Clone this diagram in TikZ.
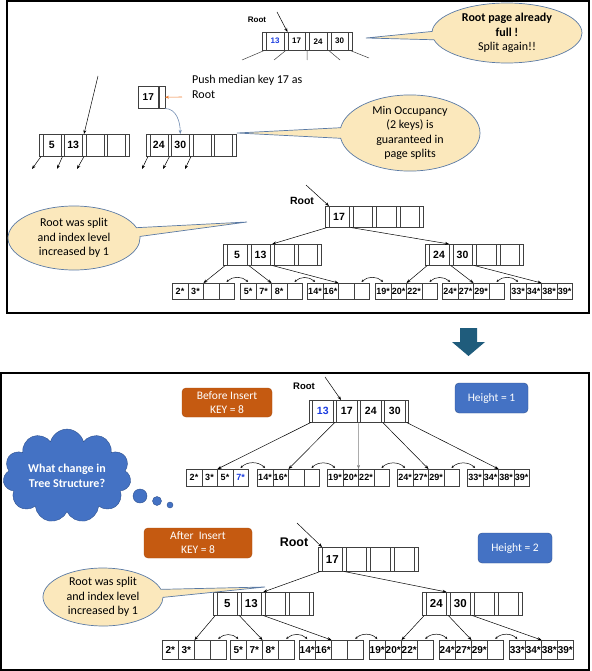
\documentclass[tikz,border=0pt]{standalone}
\usepackage{fontspec}
\setmainfont{Carlito}
\newfontfamily\arialf{Liberation Sans}
\usepackage{xcolor}
\usetikzlibrary{arrows.meta, shapes.callouts, shapes.symbols, positioning}

\definecolor{treeline}{HTML}{404040}
\definecolor{keyblue}{HTML}{1A3CE0}
\definecolor{calloutfill}{HTML}{FBE8BC}
\definecolor{calloutline}{HTML}{5A7AA5}
\definecolor{tagfill}{HTML}{C55A11}
\definecolor{tagline}{HTML}{A84C0E}
\definecolor{hfill}{HTML}{4472C4}
\definecolor{hline}{HTML}{2F528F}
\definecolor{downfill}{HTML}{1F5C7C}
\definecolor{pushline}{HTML}{ED7D31}
\definecolor{curveline}{HTML}{6E8AB0}

\newcommand{\keyfont}[1]{\fontsize{#1}{#1}\selectfont\arialf\bfseries}
\newcommand{\calfont}{\fontsize{12}{14.5}\selectfont}

% index page: name, x, y, slot width, key width, height, font size, keys
\newcommand{\idxnode}[8]{%
  \foreach \k [count=\i] in {#8} {
    \pgfmathtruncatemacro\j{\i-1}
    \pgfmathsetmacro\cellx{#2+(\i-1)*(#4+#5)}
    \node[cell, minimum width=#4pt, minimum height=#6pt] (#1-s\j) at (\cellx,#3) {};
    \pgfmathsetmacro\cellx{#2+(\i-1)*(#4+#5)+#4}
    \node[cell, minimum width=#5pt, minimum height=#6pt, font=\keyfont{#7}] (#1-k\i) at (\cellx,#3) {\k};
  }
  \pgfmathsetmacro\cellx{#2+4*(#4+#5)}
  \node[cell, minimum width=#4pt, minimum height=#6pt] (#1-s4) at (\cellx,#3) {};
}

% leaf page: name, x, y, cell width, height, font size, keys
\newcommand{\leafnode}[7]{%
  \foreach \k [count=\i] in {#7} {
    \pgfmathsetmacro\cellx{#2+(\i-1)*#4}
    \node[cell, minimum width=#4pt, minimum height=#5pt, font=\keyfont{#6}] (#1-c\i) at (\cellx,#3) {\k};
  }
}

\begin{document}
\begin{tikzpicture}[
    x=1pt, y=-1pt,
    >={Stealth[length=4pt, width=3pt]},
    cell/.style = {draw=treeline, line width=0.5pt, inner sep=0pt, anchor=north west},
    frame/.style = {draw=black, line width=1.2pt},
    ptr/.style = {->, draw=black, line width=0.5pt},
    stub/.style = {draw=treeline, line width=0.5pt},
    sib/.style = {<->, line width=0.5pt, >={Stealth[length=2.5pt, width=2.2pt]}},
    callout/.style = {ellipse callout, draw=calloutline, fill=calloutfill, line width=0.7pt,
        align=center, font=\calfont, inner sep=0pt, callout pointer arc=16},
    tag/.style = {rounded corners=4pt, draw=tagline, fill=tagfill, text=white, align=center,
        font=\fontsize{11.5}{14}\selectfont, inner sep=0pt},
    hbox/.style = {rounded corners=4pt, draw=hline, fill=hfill, text=white,
        font=\fontsize{11.5}{14}\selectfont, inner sep=0pt},
    rootlbl/.style = {inner sep=0pt}
]
\useasboundingbox (0,0) rectangle (591,671);

% upper panel
\draw[frame] (7,1) rectangle (589,313);

\node[rootlbl, font=\keyfont{8}] (rootA) at (257,20) {Root};
\idxnode{T}{262}{32}{4}{17.5}{18}{8}{{\color{keyblue}13},17,24,30}
\coordinate (rootAtail) at (277,12);
\draw[ptr] (rootAtail) -- (T-k2.north west);
\foreach \i/\x/\y in {0/242/60, 1/274/60, 2/307/60, 3/340/60, 4/369/58} {
    \coordinate (Tend\i) at (\x,\y);
    \draw[stub] (T-s\i.south) -- (Tend\i);
}

\coordinate (tipA) at (366,38);
\node[callout, minimum width=150pt, minimum height=60pt, callout absolute pointer=(tipA)] (fullA) at (507,33)
    {\textbf{Root page already}\\\textbf{full !}\\Split again!!};

\node[inner sep=0pt, anchor=north west, align=left, font=\calfont] (push) at (192,75) {Push median key 17 as\\Root};
\node[cell, minimum width=20pt, minimum height=22pt, font=\keyfont{10}] (M-k) at (138,86) {17};
\node[cell, minimum width=6pt, minimum height=22pt] (M-s) at (M-k.north east) {};
\coordinate (pushtail) at (182,97);
\draw[->, draw=pushline, line width=0.6pt] (pushtail) -- (M-s.east);

\idxnode{L0}{39}{134}{3.5}{18}{22}{10.5}{5,13,{},{}}
\idxnode{R1}{146}{134}{3.5}{18}{22}{10.5}{24,30,{},{}}
\draw[->, draw=curveline, line width=0.6pt] (M-s.south east) to[out=0, in=90] (R1-k2.north);
\coordinate (upL) at (98,76);
\draw[ptr] (upL) -- (L0-s2.north);
\foreach \n/\i/\x in {L0/0/32, L0/1/57, L0/2/77, R1/0/142, R1/1/163, R1/2/185} {
    \coordinate (\n dn\i) at (\x,169);
    \draw[ptr] (\n-s\i.south) -- (\n dn\i);
}

\coordinate (tipB) at (237,133);
\node[callout, minimum width=140pt, minimum height=64pt, callout absolute pointer=(tipB)] (occ) at (410,133)
    {Min Occupancy\\(2 keys) is\\guaranteed in\\page splits};

% tree after the split
\node[rootlbl, font=\keyfont{10.5}] (rootB) at (302,201) {Root};
\idxnode{R2}{325}{206}{4}{19.5}{21}{10.5}{17,{},{},{}}
\idxnode{I1}{223}{244}{4}{19.5}{21}{10.5}{5,13,{},{}}
\idxnode{I2}{425}{244}{4}{19.5}{21}{10.5}{24,30,{},{}}
\coordinate (rootBtail) at (306,185);
\draw[ptr] (rootBtail) -- (R2-k1.north west);
\draw[ptr] (R2-s0.south) -- (I1-s2.north);
\draw[ptr] (R2-s1.south) -- (I2-k1.north east);

\leafnode{LA1}{172}{283}{15.5}{15.5}{9}{2*,3*,{},{}}
\leafnode{LA2}{240}{283}{15.5}{15.5}{9}{5*,7*,8*,{}}
\leafnode{LA3}{307}{283}{15.5}{15.5}{9}{14*,16*,{},{}}
\leafnode{LA4}{375}{283}{15.5}{15.5}{9}{19*,20*,22*,{}}
\leafnode{LA5}{442}{283}{15.5}{15.5}{9}{24*,27*,29*,{}}
\leafnode{LA6}{510}{283}{15.5}{15.5}{9}{33*,34*,38*,39*}
\draw[ptr] (I1-s0.south) -- (LA1-c2.north east);
\draw[ptr] (I1-s1.south) -- (LA2-c2.north east);
\draw[ptr] (I1-s2.south) -- (LA3-c2.north east);
\draw[ptr] (I2-s0.south) -- (LA4-c2.north east);
\draw[ptr] (I2-s1.south) -- (LA5-c2.north east);
\draw[ptr] (I2-s2.south) -- (LA6-c2.north east);
\foreach \a/\b in {LA1/LA2, LA2/LA3, LA3/LA4, LA4/LA5, LA5/LA6}
    \draw[sib] ([yshift=1pt]\a-c4.north) to[bend left=45] ([yshift=1pt]\b-c1.north);

\coordinate (tipC) at (247,222);
\node[callout, minimum width=132pt, minimum height=64pt, callout absolute pointer=(tipC)] (splitA) at (74,238)
    {Root was split\\and index level\\increased by 1};

% down arrow
\fill[downfill] (460,328) -- (477,328) -- (477,342) -- (485,342) -- (468.5,356) -- (452,342) -- (460,342) -- cycle;

% lower panel
\draw[frame] (1,373) rectangle (589,670);

\node[tag, minimum width=90pt, minimum height=29pt] (before) at (227,402.5) {Before Insert\\KEY = 8};
\node[hbox, minimum width=73pt, minimum height=30pt] (h1) at (491.5,398) {Height = 1};

\node[rootlbl, font=\keyfont{9.5}] (rootC) at (304,386) {Root};
\idxnode{B0}{309}{400}{3}{21}{22}{10.5}{{\color{keyblue}13},17,24,30}
\coordinate (rootCtail) at (325,377);
\draw[ptr] (rootCtail) -- ([xshift=5pt]B0-k2.north west);

\leafnode{LB1}{186}{469}{15.5}{17}{9}{2*,3*,5*,{\color{keyblue}7*}}
\leafnode{LB2}{257}{469}{15.5}{17}{9}{14*,16*,{},{}}
\leafnode{LB3}{327}{469}{15.5}{17}{9}{19*,20*,22*,{}}
\leafnode{LB4}{397}{469}{15.5}{17}{9}{24*,27*,29*,{}}
\leafnode{LB5}{467}{469}{15.5}{17}{9}{33*,34*,38*,39*}
\draw[ptr] (B0-s0.south) -- (LB1-c2.north east);
\draw[ptr] (B0-s1.south) -- (LB2-c2.north east);
\draw[ptr, draw=gray] (B0-s2.south) -- (LB3-c2.north east);
\draw[ptr] (B0-s3.south) -- (LB4-c2.north east);
\draw[ptr] (B0-s4.south) -- (LB5-c2.north east);
\foreach \a/\b in {LB1/LB2, LB2/LB3, LB3/LB4, LB4/LB5}
    \draw[sib] ([yshift=1pt]\a-c4.north) to[bend left=45] ([yshift=1pt]\b-c1.north);

\node[cloud, cloud puffs=11, aspect=1.5, draw=hline, fill=hfill, minimum width=128pt, minimum height=86pt,
    align=center, text=white, font=\calfont\bfseries, inner sep=0pt] (think) at (67,476) {What change in\\Tree Structure?};
\node[circle, draw=hline, fill=hfill, minimum size=14pt, inner sep=0pt] (bub1) at (140,496) {};
\node[circle, draw=hline, fill=hfill, minimum size=9pt, inner sep=0pt] (bub2) at (157,501) {};
\node[circle, draw=hline, fill=hfill, minimum size=6pt, inner sep=0pt] (bub3) at (170,505) {};

\node[tag, minimum width=108pt, minimum height=30pt] (after) at (198,543) {After\ \ Insert\\KEY = 8};
\node[hbox, minimum width=74pt, minimum height=30pt] (h2) at (515,548) {Height = 2};

% tree after inserting 8
\node[rootlbl, font=\keyfont{12.5}] (rootD) at (294,542) {Root};
\idxnode{C0}{318}{547}{4}{20}{24}{11.5}{17,{},{},{}}
\idxnode{CI1}{213}{592}{4}{20}{23}{11.5}{5,13,{},{}}
\idxnode{CI2}{422}{592}{4}{20}{23}{11.5}{24,30,{},{}}
\coordinate (rootDtail) at (297,523);
\draw[ptr] (rootDtail) -- (C0-k1.north west);
\draw[ptr] (C0-s0.south) -- (CI1-s2.north);
\draw[ptr] (C0-s1.south) -- (CI2-k1.north east);

\leafnode{LC1}{162}{640}{16}{19}{10}{2*,3*,{},{}}
\leafnode{LC2}{230}{640}{16}{19}{10}{5*,7*,8*,{}}
\leafnode{LC3}{299}{640}{16}{19}{10}{14*,16*,{},{}}
\leafnode{LC4}{369}{640}{16}{19}{10}{19*,20*,22*,{}}
\leafnode{LC5}{439}{640}{16}{19}{10}{24*,27*,29*,{}}
\leafnode{LC6}{509}{640}{16}{19}{10}{33*,34*,38*,39*}
\draw[ptr] (CI1-s0.south) -- (LC1-c2.north east);
\draw[ptr] (CI1-s1.south) -- (LC2-c2.north east);
\draw[ptr] (CI1-s2.south) -- (LC3-c2.north east);
\draw[ptr] (CI2-s0.south) -- (LC4-c2.north east);
\draw[ptr] (CI2-s1.south) -- (LC5-c2.north east);
\draw[ptr] (CI2-s2.south) -- (LC6-c2.north east);
\foreach \a/\b in {LC1/LC2, LC2/LC3, LC3/LC4, LC4/LC5, LC5/LC6}
    \draw[sib] ([yshift=1pt]\a-c4.north) to[bend left=45] ([yshift=1pt]\b-c1.north);

\coordinate (tipD) at (265,587);
\node[callout, minimum width=120pt, minimum height=58pt, callout absolute pointer=(tipD)] (splitB) at (103,597)
    {Root was split\\and index level\\increased by 1};

\end{tikzpicture}
\end{document}
